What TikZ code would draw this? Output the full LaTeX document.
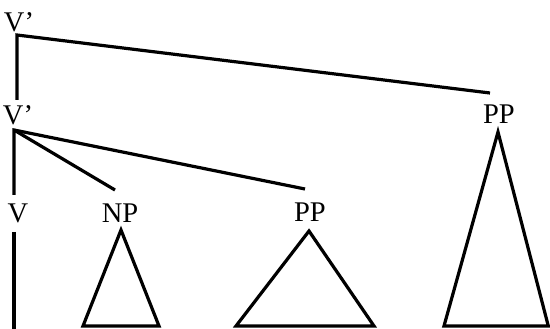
\documentclass[tikz,border=0pt]{standalone}
\usepackage{fontspec}
\setmainfont{Liberation Serif}
\begin{document}
\begin{tikzpicture}[x=1pt,y=-1pt,
  lbl/.style={inner sep=0pt, font=\fontsize{28.5}{30}\selectfont},
  br/.style={line width=3.2pt},
  tri/.style={line width=3.2pt, line join=miter}]
\useasboundingbox (0,0) rectangle (550,329);
% labels
\node[lbl] (vb1) at (19,22) {V'};
\node[lbl] (vb2) at (18,115) {V'};
\node[lbl] (v) at (18,213) {V};
\node[lbl] (np) at (120,213) {NP};
\node[lbl] (pp1) at (310,212) {PP};
\node[lbl] (pp2) at (499,114) {PP};
% joints
\coordinate (j1) at (17,35);
\coordinate (j2) at (14,130);
\coordinate (vb2top) at (17,100);
\coordinate (pp2top) at (490,93);
\coordinate (vtop) at (14,195);
\coordinate (nptop) at (115,190);
\coordinate (pp1top) at (305,189);
% branches
\draw[br] (vb2top) -- (j1) -- (pp2top);
\draw[br] (vtop) -- (j2) -- (pp1top);
\draw[br] (j2) -- (nptop);
% V stem
\coordinate (vstem) at (14,232);
\coordinate (vend) at (14,332);
\draw[br] (vstem) -- (vend);
% triangles
\coordinate (npa) at (121,230);
\coordinate (npl) at (83,326);
\coordinate (npr) at (159,326);
\draw[tri] (npa) -- (npl) -- (npr) -- cycle;
\coordinate (p1a) at (309,231);
\coordinate (p1l) at (236,326);
\coordinate (p1r) at (374,326);
\draw[tri] (p1a) -- (p1l) -- (p1r) -- cycle;
\coordinate (p2a) at (498,132);
\coordinate (p2l) at (444,326);
\coordinate (p2r) at (548.3,326);
\draw[tri] (p2a) -- (p2l) -- (p2r) -- cycle;
\end{tikzpicture}
\end{document}
